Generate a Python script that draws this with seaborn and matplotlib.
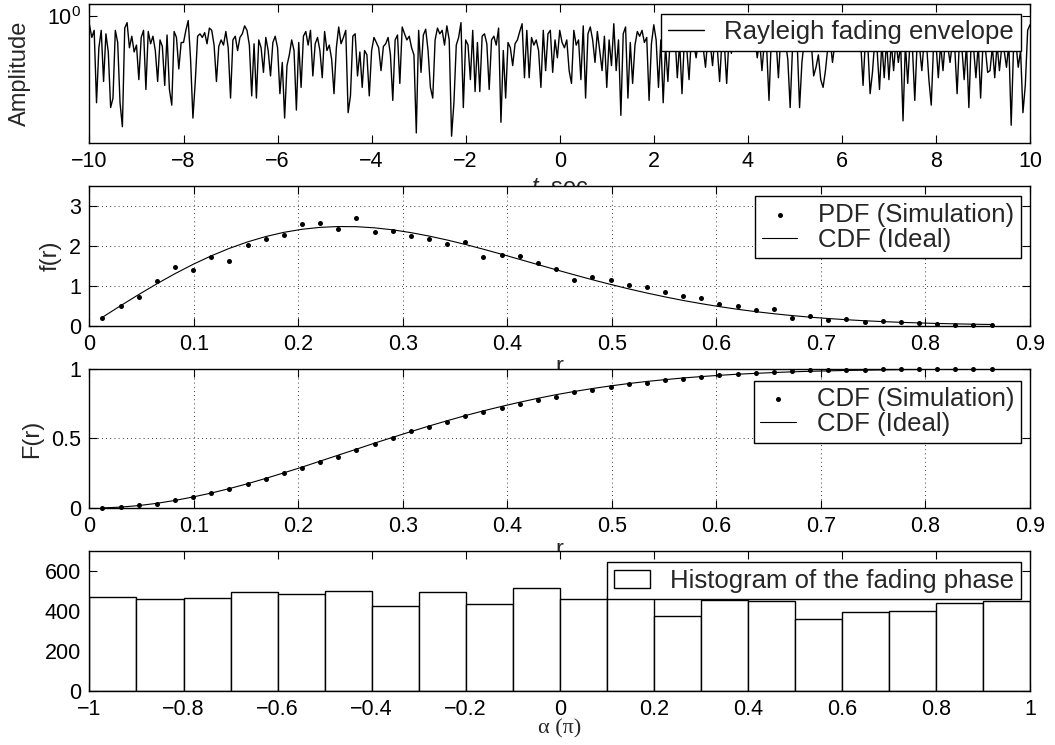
import numpy as np
import pandas as pd
import matplotlib
matplotlib.use("Agg")
import matplotlib.pyplot as plt
import seaborn as sns
from matplotlib.ticker import FixedLocator, NullLocator, FuncFormatter

# ---------------------------------------------------------------- data
# Rayleigh fading envelope sampled every 0.05 s over [-10, 10] s
envelope = [
    0.92, 0.81, 0.87, 0.42, 0.73, 0.87, 0.52, 0.84, 0.70, 0.40, 0.44, 0.87, 0.77, 0.42, 0.33, 0.89, 0.94, 0.73, 0.82, 0.70,
    0.75, 0.53, 0.81, 0.87, 0.48, 0.86, 0.76, 0.82, 0.71, 0.52, 0.79, 0.74, 0.50, 0.83, 0.48, 0.41, 0.86, 0.81, 0.59, 0.77,
    0.77, 0.87, 0.96, 0.65, 0.36, 0.52, 0.82, 0.84, 0.81, 0.85, 0.76, 0.89, 0.87, 0.75, 0.52, 0.74, 0.79, 0.75, 0.86, 0.73,
    0.44, 0.79, 0.82, 0.71, 0.81, 0.84, 0.91, 0.87, 0.75, 0.45, 0.76, 0.44, 0.79, 0.73, 0.57, 0.81, 0.71, 0.55, 0.77, 0.82,
    0.73, 0.46, 0.63, 0.36, 0.61, 0.68, 0.79, 0.71, 0.39, 0.77, 0.49, 0.82, 0.86, 0.75, 0.87, 0.55, 0.76, 0.81, 0.71, 0.54,
    0.86, 0.71, 0.75, 0.65, 0.46, 0.73, 0.90, 0.76, 0.81, 0.87, 0.38, 0.45, 0.82, 0.84, 0.55, 0.70, 0.49, 0.71, 0.68, 0.45,
    0.71, 0.81, 0.77, 0.73, 0.58, 0.74, 0.76, 0.81, 0.68, 0.43, 0.79, 0.83, 0.51, 0.90, 0.84, 0.79, 0.82, 0.73, 0.68, 0.31,
    0.87, 0.57, 0.83, 0.88, 0.71, 0.49, 0.44, 0.79, 0.89, 0.84, 0.87, 0.75, 0.91, 0.79, 0.30, 0.42, 0.75, 0.81, 0.94, 0.40,
    0.79, 0.75, 0.53, 0.87, 0.47, 0.77, 0.47, 0.82, 0.84, 0.76, 0.48, 0.79, 0.82, 0.75, 0.89, 0.345, 0.71, 0.44, 0.77, 0.73,
    0.61, 0.76, 0.79, 0.86, 0.93, 0.54, 0.87, 0.54, 0.81, 0.75, 0.79, 0.71, 0.49, 0.87, 0.58, 0.84, 0.87, 0.57, 0.79, 0.66,
    0.87, 0.77, 0.73, 0.79, 0.58, 0.51, 0.87, 0.75, 0.79, 0.53, 0.91, 0.44, 0.84, 0.90, 0.79, 0.63, 0.86, 0.71, 0.58, 0.82,
    0.49, 0.79, 0.61, 0.93, 0.58, 0.79, 0.37, 0.84, 0.90, 0.44, 0.77, 0.51, 0.75, 0.86, 0.82, 0.87, 0.77, 0.81, 0.43, 0.76,
    0.92, 0.79, 0.49, 0.79, 0.42, 0.75, 0.52, 0.81, 0.71, 0.83, 0.54, 0.77, 0.46, 0.79, 0.73, 0.53, 0.82, 0.76, 0.66, 0.79,
    0.83, 0.73, 0.60, 0.81, 0.76, 0.61, 0.82, 0.73, 0.52, 0.79, 0.76, 0.51, 0.81, 0.69, 0.84, 0.77, 0.73, 0.82, 0.79, 0.74,
    0.71, 0.81, 0.76, 0.82, 0.66, 0.79, 0.58, 0.77, 0.73, 0.43, 0.81, 0.76, 0.79, 0.54, 0.82, 0.74, 0.77, 0.65, 0.40, 0.73,
    0.79, 0.76, 0.40, 0.63, 0.79, 0.75, 0.81, 0.76, 0.55, 0.60, 0.68, 0.53, 0.49, 0.58, 0.73, 0.79, 0.63, 0.76, 0.81, 0.77,
    0.79, 0.73, 0.81, 0.74, 0.82, 0.79, 0.76, 0.81, 0.77, 0.50, 0.79, 0.76, 0.46, 0.57, 0.79, 0.71, 0.48, 0.77, 0.54, 0.79,
    0.53, 0.77, 0.58, 0.79, 0.63, 0.75, 0.35, 0.76, 0.51, 0.79, 0.73, 0.43, 0.77, 0.74, 0.58, 0.79, 0.76, 0.53, 0.41, 0.76,
    0.77, 0.54, 0.76, 0.58, 0.79, 0.74, 0.63, 0.77, 0.73, 0.46, 0.79, 0.74, 0.53, 0.76, 0.40, 0.79, 0.73, 0.54, 0.76, 0.44,
    0.76, 0.73, 0.57, 0.58, 0.74, 0.54, 0.76, 0.58, 0.74, 0.71, 0.60, 0.76, 0.335, 0.73, 0.77, 0.60, 0.71, 0.38, 0.50, 0.87,
    0.92,
]
t_start, t_stop = -10.0, 10.0

# envelope bins (bin centres)
r_bins = [
    0.0123, 0.0297, 0.0470, 0.0644, 0.0818, 0.0992, 0.1165, 0.1339, 0.1513, 0.1686,
    0.1860, 0.2034, 0.2207, 0.2381, 0.2555, 0.2728, 0.2902, 0.3076, 0.3249, 0.3423,
    0.3597, 0.3770, 0.3944, 0.4118, 0.4291, 0.4465, 0.4639, 0.4812, 0.4986, 0.5160,
    0.5333, 0.5507, 0.5681, 0.5854, 0.6028, 0.6202, 0.6375, 0.6549, 0.6723, 0.6896,
    0.7070, 0.7244, 0.7417, 0.7591, 0.7765, 0.7938, 0.8112, 0.8286, 0.8459, 0.8633,
]
pdf_sim = [
    0.19, 0.49, 0.73, 1.11, 1.47, 1.39, 1.72, 1.61, 2.03, 2.17,
    2.27, 2.56, 2.58, 2.43, 2.70, 2.35, 2.38, 2.26, 2.17, 2.06,
    2.09, 1.71, 1.78, 1.75, 1.58, 1.42, 1.15, 1.21, 1.15, 1.01,
    0.98, 0.84, 0.74, 0.68, 0.53, 0.48, 0.38, 0.42, 0.20, 0.25,
    0.14, 0.16, 0.085, 0.12, 0.09, 0.06, 0.03, 0.02, 0.02, 0.02,
]
pdf_ideal = [
    0.207, 0.497, 0.777, 1.048, 1.303, 1.539, 1.751, 1.940, 2.102, 2.236,
    2.342, 2.419, 2.467, 2.488, 2.484, 2.455, 2.405, 2.335, 2.249, 2.149,
    2.038, 1.918, 1.792, 1.662, 1.532, 1.402, 1.275, 1.152, 1.034, 0.922,
    0.818, 0.721, 0.631, 0.550, 0.476, 0.409, 0.350, 0.297, 0.251, 0.211,
    0.177, 0.147, 0.121, 0.100, 0.081, 0.066, 0.053, 0.043, 0.034, 0.027,
]
cdf_sim = [
    0.0, 0.01, 0.02, 0.03, 0.055, 0.08, 0.11, 0.14, 0.17, 0.21,
    0.25, 0.29, 0.33, 0.37, 0.42, 0.46, 0.50, 0.55, 0.58, 0.62,
    0.66, 0.69, 0.72, 0.75, 0.775, 0.80, 0.83, 0.85, 0.87, 0.89,
    0.90, 0.92, 0.93, 0.94, 0.955, 0.964, 0.97, 0.978, 0.983, 0.988,
    0.99, 0.992, 0.993, 0.995, 0.996, 0.997, 0.998, 0.999, 0.9995, 1.0,
]
cdf_ideal = [
    0.001, 0.007, 0.018, 0.034, 0.055, 0.080, 0.108, 0.140, 0.175, 0.213,
    0.253, 0.294, 0.337, 0.380, 0.423, 0.466, 0.508, 0.549, 0.589, 0.627,
    0.664, 0.698, 0.730, 0.760, 0.788, 0.814, 0.837, 0.858, 0.877, 0.894,
    0.909, 0.922, 0.934, 0.944, 0.953, 0.961, 0.967, 0.973, 0.978, 0.982,
    0.985, 0.988, 0.990, 0.992, 0.994, 0.995, 0.996, 0.997, 0.998, 0.998,
]

# fading phase histogram (in units of pi)
phase_edges = [-1.0, -0.9, -0.8, -0.7, -0.6, -0.5, -0.4, -0.3, -0.2, -0.1, 0.0,
               0.1, 0.2, 0.3, 0.4, 0.5, 0.6, 0.7, 0.8, 0.9, 1.0]
phase_counts = [468, 458, 466, 497, 483, 503, 426, 498, 437, 515,
                459, 476, 375, 456, 449, 361, 397, 400, 439, 449]

t_ticks = [-10, -8, -6, -4, -2, 0, 2, 4, 6, 8, 10]
r_ticks = [0, 0.1, 0.2, 0.3, 0.4, 0.5, 0.6, 0.7, 0.8, 0.9]
phase_ticks = [-1, -0.8, -0.6, -0.4, -0.2, 0, 0.2, 0.4, 0.6, 0.8, 1]

# ---------------------------------------------------------------- style
sns.set_theme(style="white")
plt.rcParams["font.family"] = ["Liberation Sans", "DejaVu Sans"]
plt.rcParams["mathtext.fontset"] = "custom"
plt.rcParams["mathtext.rm"] = "Liberation Sans"
plt.rcParams["mathtext.it"] = "Liberation Sans:italic"
plt.rcParams["axes.unicode_minus"] = True

TICK_FS = 15.5
LABEL_FS = 17
LEGEND_FS = 18.5

fig = plt.figure(figsize=(10.55, 7.45), dpi=100)
left, width, height = 0.0848, 0.8915, 0.187
bottoms = [0.808, 0.563, 0.318, 0.073]
axes = [fig.add_axes([left, b, width, height]) for b in bottoms]
ax1, ax2, ax3, ax4 = axes


def num_fmt(v, _pos=None):
    s = f"{round(v, 6):g}"
    return s.replace("-", "\u2212")


def matlab_axes(ax):
    for sp in ax.spines.values():
        sp.set_color("black")
        sp.set_linewidth(1.0)
    ax.tick_params(direction="in", length=6, width=0.8, colors="black",
                   top=True, right=True, bottom=True, left=True,
                   labelsize=TICK_FS, pad=6)
    ax.tick_params(which="minor", length=0)
    ax.set_facecolor("white")


def matlab_legend(ax, anchor, **kw):
    leg = ax.legend(loc="upper right", bbox_to_anchor=anchor, borderaxespad=0,
                    fontsize=LEGEND_FS, frameon=True, fancybox=False,
                    framealpha=1, edgecolor="black", borderpad=0.25,
                    labelspacing=0.05, handlelength=1.4, handletextpad=0.8, **kw)
    leg.get_frame().set_linewidth(1.0)
    return leg


# ---------------------------------------------------------------- panel 1: envelope
t_axis = np.linspace(t_start, t_stop, len(envelope))
env_df = pd.DataFrame({"t": t_axis, "amp": envelope})
sns.lineplot(data=env_df, x="t", y="amp", ax=ax1, color="black", linewidth=1.0,
             estimator=None, sort=False, label="Rayleigh fading envelope")
ax1.set_yscale("log")
ax1.set_xlim(-10, 10)
ax1.set_ylim(0.28, 1.137)
ax1.xaxis.set_major_locator(FixedLocator(t_ticks))
ax1.xaxis.set_major_formatter(FuncFormatter(num_fmt))
ax1.yaxis.set_major_locator(FixedLocator([1.0]))
ax1.yaxis.set_major_formatter(FuncFormatter(lambda v, p: r"$10^{0}$"))
ax1.yaxis.set_minor_locator(NullLocator())
ax1.set_xlabel(r"$t$, sec", fontsize=LABEL_FS)
ax1.set_ylabel("Amplitude", fontsize=LABEL_FS)
matlab_axes(ax1)
matlab_legend(ax1, (0.990, 0.928))

# ---------------------------------------------------------------- panel 2: PDF
pdf_df = pd.DataFrame({"r": r_bins, "sim": pdf_sim, "ideal": pdf_ideal})
sns.scatterplot(data=pdf_df, x="r", y="sim", ax=ax2, color="black", s=13,
                linewidth=0, label="PDF (Simulation)", clip_on=False, zorder=3)
sns.lineplot(data=pdf_df, x="r", y="ideal", ax=ax2, color="black", linewidth=0.8,
             estimator=None, label="CDF (Ideal)")
ax2.set_xlim(0, 0.9)
ax2.set_ylim(0, 3.5)
ax2.xaxis.set_major_locator(FixedLocator(r_ticks))
ax2.xaxis.set_major_formatter(FuncFormatter(num_fmt))
ax2.yaxis.set_major_locator(FixedLocator([0, 1, 2, 3]))
ax2.yaxis.set_major_formatter(FuncFormatter(num_fmt))
ax2.set_xlabel("r", fontsize=LABEL_FS)
ax2.set_ylabel("f(r)", fontsize=LABEL_FS)
matlab_axes(ax2)
ax2.grid(True, color="black", linestyle=(0, (1, 4)), linewidth=0.6)
matlab_legend(ax2, (0.990, 0.929))

# ---------------------------------------------------------------- panel 3: CDF
cdf_df = pd.DataFrame({"r": r_bins, "sim": cdf_sim, "ideal": cdf_ideal})
sns.scatterplot(data=cdf_df, x="r", y="sim", ax=ax3, color="black", s=13,
                linewidth=0, label="CDF (Simulation)", clip_on=False, zorder=3)
sns.lineplot(data=cdf_df, x="r", y="ideal", ax=ax3, color="black", linewidth=0.8,
             estimator=None, label="CDF (Ideal)")
ax3.set_xlim(0, 0.9)
ax3.set_ylim(0, 1)
ax3.xaxis.set_major_locator(FixedLocator(r_ticks))
ax3.xaxis.set_major_formatter(FuncFormatter(num_fmt))
ax3.yaxis.set_major_locator(FixedLocator([0, 0.5, 1]))
ax3.yaxis.set_major_formatter(FuncFormatter(num_fmt))
ax3.set_xlabel("r", fontsize=LABEL_FS)
ax3.set_ylabel("F(r)", fontsize=LABEL_FS)
matlab_axes(ax3)
ax3.grid(True, color="black", linestyle=(0, (1, 4)), linewidth=0.6)
matlab_legend(ax3, (0.990, 0.914))

# ---------------------------------------------------------------- panel 4: phase histogram
phase_centres = [(a + b) / 2 for a, b in zip(phase_edges[:-1], phase_edges[1:])]
sns.histplot(x=phase_centres, weights=phase_counts, bins=phase_edges, ax=ax4,
             color="white", edgecolor="black", linewidth=1.0, alpha=1,
             label="Histogram of the fading phase")
ax4.set_xlim(-1, 1)
ax4.set_ylim(0, 700)
ax4.xaxis.set_major_locator(FixedLocator(phase_ticks))
ax4.xaxis.set_major_formatter(FuncFormatter(num_fmt))
ax4.yaxis.set_major_locator(FixedLocator([0, 200, 400, 600]))
ax4.yaxis.set_major_formatter(FuncFormatter(num_fmt))
ax4.set_xlabel("α (π)", fontsize=LABEL_FS - 1, family=["Liberation Serif", "DejaVu Serif"])
ax4.set_ylabel("")
matlab_axes(ax4)
matlab_legend(ax4, (0.990, 0.921))

# label placement
ax1.yaxis.set_label_coords(-0.062, 0.5)
ax2.yaxis.set_label_coords(-0.030, 0.5)
ax3.yaxis.set_label_coords(-0.049, 0.5)
ax1.xaxis.set_label_coords(0.5, -0.235)
ax2.xaxis.set_label_coords(0.5, -0.22)
ax3.xaxis.set_label_coords(0.5, -0.22)
ax4.xaxis.set_label_coords(0.5, -0.205)

fig.savefig("out.png", dpi=100)
